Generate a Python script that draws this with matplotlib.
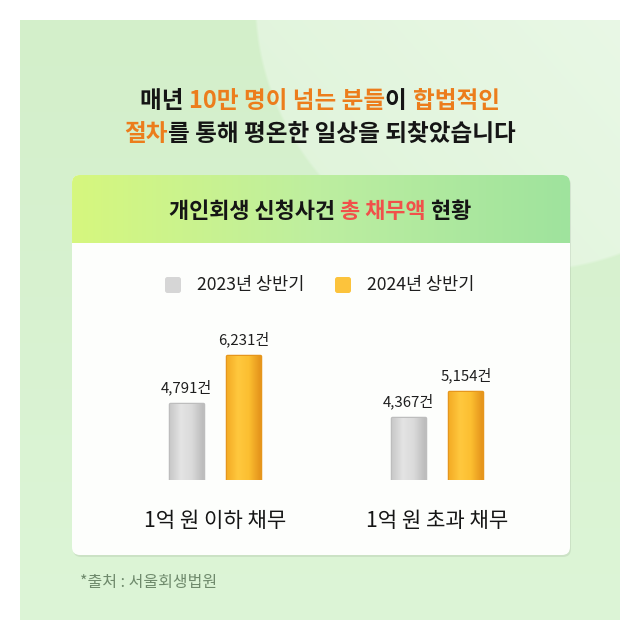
import numpy as np
import matplotlib.pyplot as plt
from matplotlib.patches import FancyBboxPatch
from matplotlib.colors import to_rgb, LinearSegmentedColormap

plt.rcParams['font.family'] = ['Noto Sans CJK KR', 'DejaVu Sans']

# data
groups = ['1억 원 이하 채무', '1억 원 초과 채무']
series = ['2023년 상반기', '2024년 상반기']
cases_2023 = [4791, 4367]
cases_2024 = [6231, 5154]
source = '*출처 : 서울회생법원'

GRAY = '#d6d6d6'
ORANGE = '#fcc33c'
HILITE = '#ec7d1c'
RED = '#f1504a'
BASE = 2500  # visual baseline of the bars

fig = plt.figure(figsize=(6.4, 6.4), dpi=100)
bg = fig.add_axes([0, 0, 1, 1])
bg.axis('off')


def rgb(c):
    return np.array(to_rgb(c))


# green panel with lighter round blob
yy, xx = np.mgrid[20:620, 20:620] + 0.5
t = ((yy - 20) / 600)[..., None]
base = (1 - t) * rgb('#d3efca') + t * rgb('#ddf5d7')
d = np.hypot(xx - 526, yy - 0)
m = np.clip((272 - d) / 3, 0, 1)[..., None]
u = np.clip((xx - 250) / 370 * 0.6 + (1 - yy / 280) * 0.4, 0, 1)[..., None]
blob = (1 - u) * rgb('#def3d8') + u * rgb('#e9f8e6')
img = base * (1 - m) + blob * m
bg.imshow(img, extent=(20, 620, 620, 20), aspect='auto', zorder=0)

# card
shadow = FancyBboxPatch((73, 177), 498, 380, boxstyle='round,pad=0,rounding_size=8',
                        fc='#000000', ec='none', alpha=0.07, zorder=1)
bg.add_patch(shadow)
card = FancyBboxPatch((72, 175), 498, 380, boxstyle='round,pad=0,rounding_size=8',
                      fc='#fdfefc', ec='none', zorder=2)
bg.add_patch(card)
hcmap = LinearSegmentedColormap.from_list('hdr', ['#d6f77e', '#bdeea0', '#9fe39d'])
hdr = bg.imshow(np.linspace(0, 1, 256)[None, :], cmap=hcmap, extent=(72, 570, 243, 175),
                aspect='auto', zorder=3)
hdr.set_clip_path(card)

bg.set_xlim(0, 640)
bg.set_ylim(640, 0)

renderer = fig.canvas.get_renderer()


def rich_line(y, parts, size, weight='bold', cx=320):
    probe = bg.text(0, 0, '가', fontsize=size, fontweight=weight)
    pw = probe.get_window_extent(renderer).width
    probe.remove()
    full = ''.join(s for s, _ in parts)
    tmp = bg.text(0, 0, full + '가', fontsize=size, fontweight=weight)
    total = tmp.get_window_extent(renderer).width - pw
    tmp.remove()
    x0 = cx - total / 2
    prefix = ''
    for s, c in parts:
        tmp = bg.text(0, 0, prefix + '가', fontsize=size, fontweight=weight)
        off = tmp.get_window_extent(renderer).width - pw
        tmp.remove()
        bg.text(x0 + off, y, s, fontsize=size, fontweight=weight, color=c,
                ha='left', va='center', zorder=5)
        prefix += s


rich_line(101, [('매년 ', '#151515'), ('10만 명이 넘는 분들', HILITE),
                ('이 ', '#151515'), ('합법적인', HILITE)], 17)
rich_line(134, [('절차', HILITE), ('를 통해 평온한 일상을 되찾았습니다', '#151515')], 17)
rich_line(211, [('개인회생 신청사건 ', '#151515'), ('총 채무액', RED),
                (' 현황', '#151515')], 15.8)

# legend
for (lx, tx), lab, col in zip([(165, 197), (335, 367)], series, [GRAY, ORANGE]):
    bg.add_patch(FancyBboxPatch((lx, 277), 16, 16, boxstyle='round,pad=0,rounding_size=2.5',
                                fc=col, ec='none', zorder=5))
    bg.text(tx, 285, lab, fontsize=12.6, color='#1e1e1e', ha='left', va='center', zorder=5)

bg.text(80, 582, source, fontsize=11.5, color='#6f8a6c', ha='left', va='center', zorder=5)

# bars
ax = fig.add_axes([120 / 640, 160 / 640, 410 / 640, 180 / 640], zorder=6)
ax.patch.set_alpha(0)
ax.axis('off')

x = np.arange(len(groups))
off, w = 0.13, 0.148
shades = {
    GRAY: ['#c9c9c9', '#e4e4e4', '#dadada', '#bdbdbd'],
    ORANGE: ['#f4ad26', '#ffc83e', '#fcbf31', '#e6961c'],
}
for vals, pos, col in [(cases_2023, x - off, GRAY), (cases_2024, x + off, ORANGE)]:
    heights = np.array(vals) - BASE
    bars = ax.bar(pos, heights, bottom=BASE, width=w, color=col, edgecolor=shades[col][-1],
                  linewidth=2.5, joinstyle='round', zorder=2)
    cm = LinearSegmentedColormap.from_list('b', shades[col])
    for b, v in zip(bars, vals):
        x0, y0 = b.get_x(), b.get_y()
        im = ax.imshow(np.linspace(0, 1, 64)[None, :], cmap=cm, aspect='auto', zorder=3,
                       extent=(x0, x0 + b.get_width(), y0, y0 + b.get_height()))
        im.set_clip_path(b)
        ax.annotate(f'{v:,}건', (b.get_x() + b.get_width() / 2, v), xytext=(0, 6),
                    textcoords='offset points', ha='center', va='bottom',
                    fontsize=10.8, color='#1e1e1e')
ax.set_xlim(-0.428, 1.419)
ax.set_ylim(BASE, 7916)

for g, lab in zip(x, groups):
    ax.annotate(lab, (g, BASE), xytext=(0, -29.5), textcoords='offset points',
                ha='center', va='center', fontsize=15.2, fontweight='medium',
                color='#151515', annotation_clip=False)

fig.savefig('out.png', dpi=100, facecolor='white')
